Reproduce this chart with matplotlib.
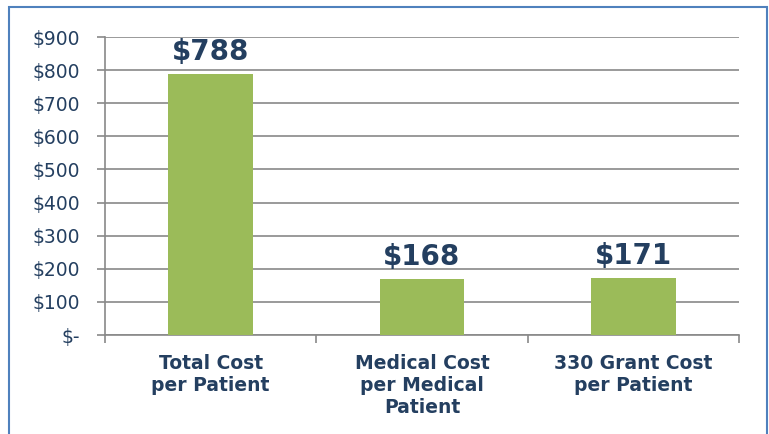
import matplotlib
matplotlib.use('Agg')
import matplotlib.pyplot as plt
from matplotlib.patches import Rectangle
from matplotlib.ticker import FixedLocator

plt.rcParams['font.family'] = ['DejaVu Sans']

categories = ['Total Cost\nper Patient', 'Medical Cost\nper Medical\nPatient', '330 Grant Cost\nper Patient']
values = [788, 168, 171]
y_ticks = [0, 100, 200, 300, 400, 500, 600, 700, 800, 900]
y_labels = ['$-', '$100', '$200', '$300', '$400', '$500', '$600', '$700', '$800', '$900']

text_color = '#243F60'
bar_color = '#9BBB59'
grid_color = '#898989'

fig = plt.figure(figsize=(7.69, 4.34), dpi=100)
ax = fig.add_axes([0.1365, 0.228, 0.961 - 0.1365, 0.9147 - 0.228])

x = list(range(len(categories)))
bars = ax.bar(x, values, width=0.4, color=bar_color, zorder=3)

# value labels above bars
for b, v in zip(bars, values):
    ax.annotate(f'${v}', (b.get_x() + b.get_width() / 2, v),
                xytext=(0, 6), textcoords='offset points',
                ha='center', va='bottom', fontsize=20, fontweight='bold',
                color=text_color)

ax.set_xlim(-0.5, len(categories) - 0.5)
ax.set_ylim(0, 900)
ax.set_yticks(y_ticks)
ax.set_yticklabels(y_labels)
ax.yaxis.grid(True, color=grid_color, linewidth=1.2, zorder=0)

ax.set_xticks(x)
ax.set_xticklabels(categories, fontsize=13.5, fontweight='bold', color=text_color,
                   linespacing=1.2, va='top')
ax.xaxis.set_minor_locator(FixedLocator([i - 0.5 for i in range(len(categories) + 1)]))
ax.tick_params(axis='x', which='major', length=0, pad=14)
ax.tick_params(axis='x', which='minor', length=6, color=grid_color, width=1.2)
ax.tick_params(axis='y', length=6, color=grid_color, width=1.2, pad=12,
               labelsize=13.5, labelcolor=text_color)

for s in ['top', 'right']:
    ax.spines[s].set_visible(False)
for s in ['left', 'bottom']:
    ax.spines[s].set_color(grid_color)
    ax.spines[s].set_linewidth(1.2)

# outer blue frame, bottom edge runs off the image
fig.patches.append(Rectangle((9 / 769, -0.3), (767 - 9) / 769, 1.3 - 7 / 434,
                             transform=fig.transFigure, fill=False,
                             edgecolor='#4F81BD', linewidth=1.5))

fig.savefig('out.png', dpi=100)
